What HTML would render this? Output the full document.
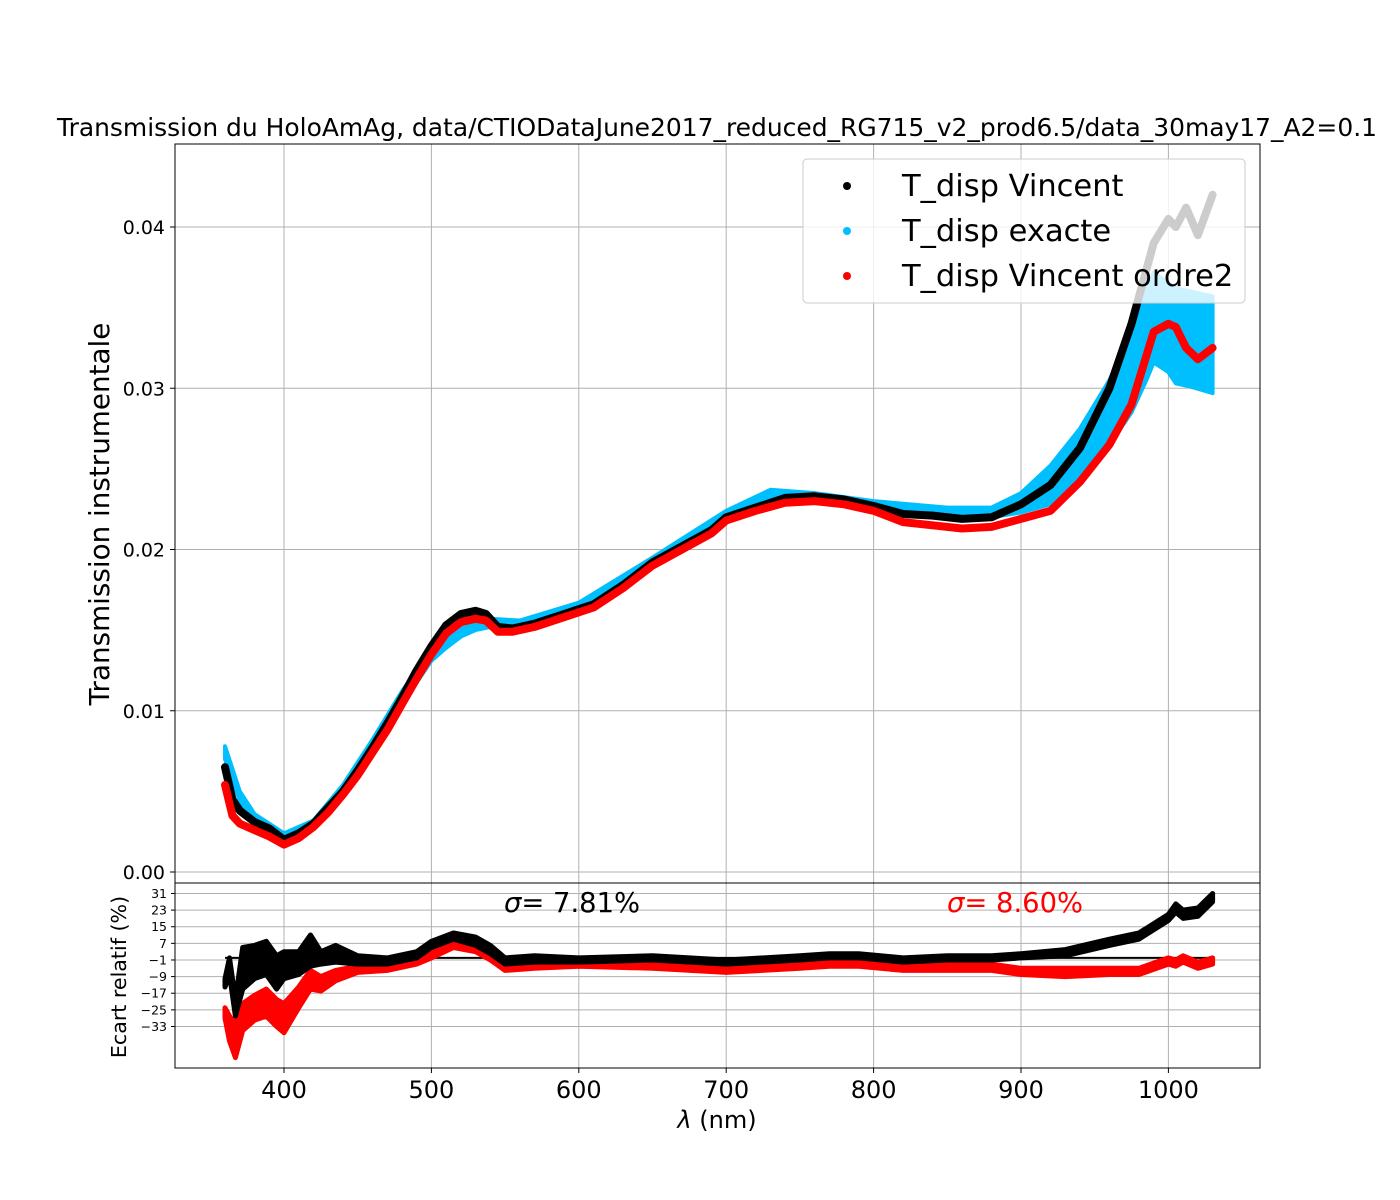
<!DOCTYPE html>
<html><head><meta charset="utf-8"><style>
body{margin:0;background:#fff}
svg{display:block;font-family:"DejaVu Sans","Liberation Sans",sans-serif}
</style></head><body>
<svg id="chart" width="1400" height="1200" viewBox="0 0 1400 1200" xmlns="http://www.w3.org/2000/svg">
<rect width="1400" height="1200" fill="#fff"/>
<g id="grid"></g>
<g id="series"></g>
<g id="axes"></g>
</svg>
<script>
// ---- data ----
const lamTop = [360,365,370,380,390,400,410,420,430,440,450,460,470,480,490,500,510,520,530,537,545,555,570,590,610,630,650,670,690,700,720,740,760,780,800,820,840,860,880,900,920,940,960,975,990,1000,1005,1012,1020,1030];
const tVincent = [0.0065,0.0045,0.0038,0.0031,0.0027,0.0020,0.0024,0.0030,0.0040,0.0050,0.0063,0.0077,0.0092,0.0108,0.0125,0.0140,0.0153,0.0160,0.0162,0.0160,0.0152,0.0151,0.0154,0.0160,0.0166,0.0178,0.0192,0.0202,0.0212,0.0220,0.0226,0.0232,0.0233,0.0231,0.0227,0.0222,0.0221,0.0219,0.0220,0.0228,0.0240,0.0263,0.0300,0.0340,0.0390,0.0405,0.0400,0.0412,0.0395,0.0420];
const tOrdre2 = [0.0054,0.0035,0.0030,0.0026,0.0022,0.0017,0.0021,0.0028,0.0037,0.0048,0.0060,0.0074,0.0088,0.0104,0.0120,0.0135,0.0148,0.0155,0.0157,0.0156,0.0149,0.0149,0.0152,0.0158,0.0164,0.0176,0.0190,0.0200,0.0210,0.0218,0.0224,0.0229,0.0230,0.0228,0.0224,0.0217,0.0215,0.0213,0.0214,0.0219,0.0224,0.0242,0.0265,0.0290,0.0335,0.0340,0.0338,0.0325,0.0318,0.0325];
const lamExact = [360,370,380,400,420,440,460,480,500,510,520,530,540,560,600,650,700,730,760,800,850,880,900,920,940,960,975,985,990,1000,1005,1015,1030];
const tExactHi = [0.0078,0.0050,0.0036,0.0024,0.0032,0.0054,0.0082,0.0112,0.0138,0.0145,0.0151,0.0155,0.0157,0.0156,0.0167,0.0195,0.0224,0.0237,0.0235,0.0230,0.0226,0.0226,0.0235,0.0252,0.0275,0.0305,0.0335,0.0360,0.0372,0.0365,0.0362,0.0360,0.0357];
const tExactLo = [0.0070,0.0044,0.0031,0.0019,0.0028,0.0049,0.0076,0.0104,0.0131,0.0139,0.0146,0.0150,0.0152,0.0152,0.0163,0.0190,0.0218,0.0230,0.0230,0.0225,0.0221,0.0220,0.0223,0.0228,0.0242,0.0265,0.0285,0.0305,0.0316,0.0310,0.0303,0.0301,0.0297];
const lamRes = [360,363,367,372,380,388,395,400,410,418,425,435,450,470,490,500,515,530,540,550,570,600,650,700,750,770,790,820,850,880,900,930,960,980,1000,1005,1010,1020,1030];
const resBlackHi = [-10,0,-20,5,6,8,1,3,3,11,3,6,1,0,3,8,12,10,6,0,1,0,1,-1,1,2,2,0,1,1,2,4,9,12,21,26,23,24,31];
const resBlackLo = [-14,-8,-28,-15,-10,-8,-15,-10,-8,-4,-3,-2,-3,-3,0,5,9,6,2,-3,-2,-2,-1,-3,-1,0,0,-2,-1,-1,0,1,6,9,18,22,19,20,27];
const resRedHi = [-24,-28,-32,-22,-18,-15,-20,-22,-14,-6,-9,-6,-4,-3,0,3,8,6,2,-3,-2,-1,-2,-4,-2,-1,-1,-3,-3,-3,-5,-5,-5,-5,0,-1,1,-2,0];
const resRedLo = [-29,-40,-48,-35,-30,-28,-33,-36,-24,-15,-16,-11,-7,-6,-3,0,5,3,-1,-6,-5,-4,-5,-7,-5,-4,-4,-6,-6,-6,-8,-9,-8,-8,-3,-4,-2,-5,-3];
const xTicks = [400,500,600,700,800,900,1000];
const yTicksTop = [0,0.01,0.02,0.03,0.04];
const yTicksBot = [31,23,15,7,-1,-9,-17,-25,-33];

// ---- axes functions ----
const L=175,R=1260,T1=144,B1=883,B2=1068;
const X = l => 284 + (l-400)*1.474;
const Y = v => 872 - v*16125;
const Yr = v => 957.9 - v*2.078;
const NS='http://www.w3.org/2000/svg';
function mk(tag,attrs,parent,text){const e=document.createElementNS(NS,tag);for(const k in attrs)e.setAttribute(k,attrs[k]);if(text!==undefined)e.textContent=text;parent.appendChild(e);return e;}
const grid=document.getElementById('grid'),ser=document.getElementById('series'),ax=document.getElementById('axes');
const svg=document.getElementById('chart');

xTicks.forEach(t=>{
  const g1=mk('line',{x1:X(t),x2:X(t),y1:T1,y2:B1,stroke:'#b0b0b0','stroke-width':1},grid);
  
  
  const g2=mk('line',{x1:X(t),x2:X(t),y1:B1,y2:B2,stroke:'#b0b0b0','stroke-width':1},grid);
  
  
});
yTicksTop.forEach(t=>{
  const g=mk('line',{x1:L,x2:R,y1:Y(t),y2:Y(t),stroke:'#b0b0b0','stroke-width':1},grid);
  
  
});
yTicksBot.forEach(t=>{
  const g=mk('line',{x1:L,x2:R,y1:Yr(t),y2:Yr(t),stroke:'#b0b0b0','stroke-width':1},grid);
  
  
});

function pts(ls,vs,f){return ls.map((l,i)=>X(l).toFixed(1)+','+f(vs[i]).toFixed(1)).join(' ');}
function band(ls,hi,lo,f){return pts(ls,hi,f)+' '+pts(ls.slice().reverse(),lo.slice().reverse(),f);}

const clipT=mk('clipPath',{id:'ct'},svg);mk('rect',{x:L,y:T1,width:R-L,height:B1-T1},clipT);
const clipB=mk('clipPath',{id:'cb'},svg);mk('rect',{x:L,y:B1,width:R-L,height:B2-B1},clipB);
const gt=mk('g',{'clip-path':'url(#ct)'},ser);
const be=mk('polygon',{points:band(lamExact,tExactHi,tExactLo,Y),fill:'#00bfff',stroke:'#00bfff','stroke-width':4,'stroke-linejoin':'round'},gt);


const lv=mk('polyline',{points:pts(lamTop,tVincent,Y),fill:'none',stroke:'#000','stroke-width':8,'stroke-linejoin':'round','stroke-linecap':'round'},gt);


const lo2=mk('polyline',{points:pts(lamTop,tOrdre2,Y),fill:'none',stroke:'#ff0000','stroke-width':8,'stroke-linejoin':'round','stroke-linecap':'round'},gt);



const gb=mk('g',{'clip-path':'url(#cb)'},ser);
const zl=mk('line',{x1:X(360),x2:X(1030),y1:Yr(0),y2:Yr(0),stroke:'#000','stroke-width':2},gb);


const rr=mk('polygon',{points:band(lamRes,resRedHi,resRedLo,Yr),fill:'#ff0000',stroke:'#ff0000','stroke-width':5,'stroke-linejoin':'round'},gb);


const rb=mk('polygon',{points:band(lamRes,resBlackHi,resBlackLo,Yr),fill:'#000',stroke:'#000','stroke-width':5,'stroke-linejoin':'round'},gb);



const f1=mk('rect',{x:L,y:T1,width:R-L,height:B1-T1,fill:'none',stroke:'#000','stroke-width':1},ax);


const f2=mk('rect',{x:L,y:B1,width:R-L,height:B2-B1,fill:'none',stroke:'#000','stroke-width':1},ax);



xTicks.forEach(t=>{
  mk('line',{x1:X(t),x2:X(t),y1:B2,y2:B2+5,stroke:'#000'},ax);
  const tx=mk('text',{x:X(t),y:B2+30,'font-size':24,'text-anchor':'middle'},ax,String(t));
  
  
});
yTicksTop.forEach(t=>{
  mk('line',{x1:L-5,x2:L,y1:Y(t),y2:Y(t),stroke:'#000'},ax);
  const tx=mk('text',{x:L-10,y:Y(t)+7,'font-size':19,'text-anchor':'end'},ax,t.toFixed(2));
  
  
});
yTicksBot.forEach(t=>{
  mk('line',{x1:L-4,x2:L,y1:Yr(t),y2:Yr(t),stroke:'#000'},ax);
  const tx=mk('text',{x:L-8,y:Yr(t)+4.5,'font-size':12.5,'text-anchor':'end'},ax,String(t).replace('-','\u2212'));
  
  
});
</script>
<svg style="position:absolute;left:0;top:0" width="1400" height="1200" xmlns="http://www.w3.org/2000/svg" font-family="DejaVu Sans, Liberation Sans, sans-serif">
<text x="717" y="136" font-size="25" text-anchor="middle" textLength="1320" lengthAdjust="spacingAndGlyphs">Transmission du HoloAmAg, data/CTIODataJune2017_reduced_RG715_v2_prod6.5/data_30may17_A2=0.1</text>
<text transform="translate(109,514) rotate(-90)" font-size="27.8" text-anchor="middle">Transmission instrumentale</text>
<text transform="translate(126,977) rotate(-90)" font-size="20.6" text-anchor="middle">Ecart relatif (%)</text>
<text x="717" y="1128" font-size="24" text-anchor="middle"><tspan font-style="italic">λ</tspan> (nm)</text>
<text x="504" y="912" font-size="27.4"><tspan font-style="italic">σ</tspan>= 7.81%</text>
<text x="947" y="912" font-size="27.4" fill="#ff0000"><tspan font-style="italic">σ</tspan>= 8.60%</text>
<g>
<rect x="803" y="159" width="442" height="144" rx="4" fill="#fff" fill-opacity="0.8" stroke="#ccc"/>
<circle cx="847" cy="186" r="4" fill="#000"/>
<text x="902" y="196" font-size="30.5">T_disp Vincent</text>
<circle cx="847" cy="231" r="4" fill="#00bfff"/>
<text x="902" y="241" font-size="30.5">T_disp exacte</text>
<circle cx="847" cy="276" r="4" fill="#ff0000"/>
<text x="902" y="286" font-size="30.5">T_disp Vincent ordre2</text>
</g>
</svg>
</body></html>
